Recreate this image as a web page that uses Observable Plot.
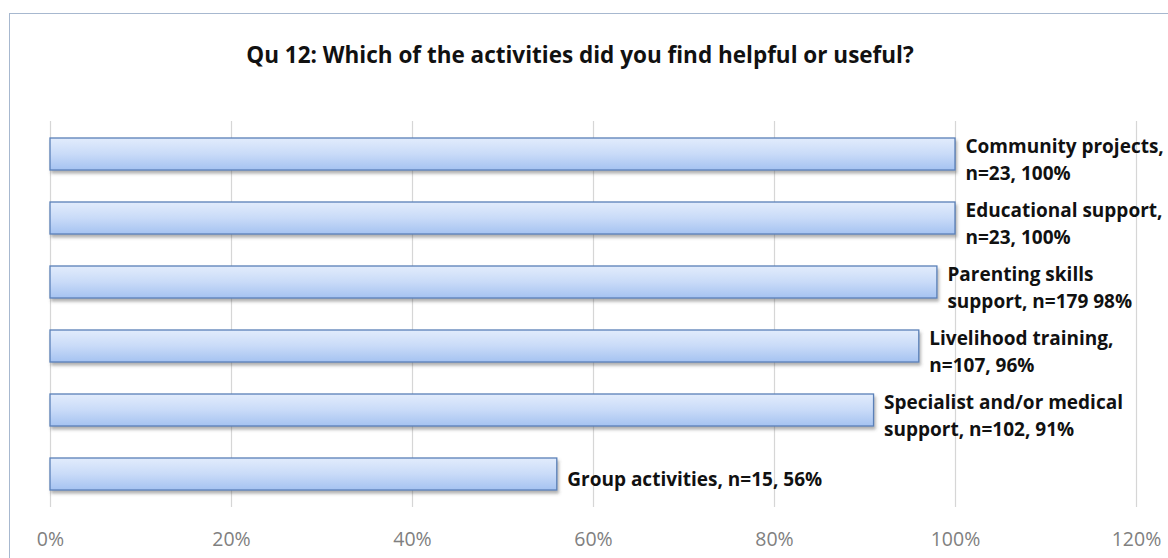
<!DOCTYPE html>
<html>
<head>
<meta charset="utf-8">
<script src="https://cdn.jsdelivr.net/npm/d3@7"></script>
<script src="https://cdn.jsdelivr.net/npm/@observablehq/plot@0.6"></script>
<style>
  html, body { margin: 0; padding: 0; background: #fff; }
  #wrap { position: relative; width: 1168px; height: 558px; overflow: hidden; font-family: "Open Sans", Lato, sans-serif; }
  #frame { position: absolute; left: 9px; top: 13px; width: 1300px; height: 700px; border: 1.5px solid #a7b8cf; box-sizing: border-box; }
  #title { position: absolute; left: 0; top: 39px; width: 1160px; text-align: center; font-weight: bold; font-size: 22.5px; color: #111; }
  #chart { position: absolute; left: 0; top: 0; }
</style>
</head>
<body>
<div id="wrap">
  <div id="frame"></div>
  <div id="title">Qu 12: Which of the activities did you find helpful or useful?</div>
  <div id="chart"></div>
</div>
<script>
const categories = [
  "Community projects",
  "Educational support",
  "Parenting skills support",
  "Livelihood training",
  "Specialist and/or medical support",
  "Group activities"
];
const shares = [1.00, 1.00, 0.98, 0.96, 0.91, 0.56];
const labels = [
  "Community projects,\nn=23, 100%",
  "Educational support,\nn=23, 100%",
  "Parenting skills\nsupport, n=179 98%",
  "Livelihood training,\nn=107, 96%",
  "Specialist and/or medical\nsupport, n=102, 91%",
  "Group activities, n=15, 56%"
];
const xTicks = [0, 0.2, 0.4, 0.6, 0.8, 1.0, 1.2];

const data = categories.map((c, i) => ({category: c, share: shares[i], label: labels[i]}));

const plot = Plot.plot({
  width: 1168,
  height: 558,
  marginLeft: 50,
  marginRight: 32,
  marginTop: 121,
  marginBottom: 51,
  style: {fontFamily: "'Open Sans', Lato, sans-serif", background: "transparent", overflow: "visible"},
  x: {domain: [0, 1.2], axis: null},
  y: {domain: categories, paddingInner: 0.5, paddingOuter: 0.25, axis: null},
  marks: [
    Plot.ruleX(xTicks, {stroke: "#d6d6d6", strokeWidth: 1.2}),
    Plot.axisX(xTicks, {tickFormat: d3.format(".0%"), tickSize: 0, tickPadding: 25, fontSize: 19.5, fill: "#808080", anchor: "bottom", label: null}),
    Plot.barX(data, {x: "share", y: "category", fill: "url(#barGrad)", stroke: "#5a80b8", strokeWidth: 1.3}),
    Plot.text(data, {x: "share", y: "category", text: "label", textAnchor: "start", lineAnchor: "middle", dx: 10, dy: 3, lineHeight: 1.44, fontSize: 19, fontWeight: "bold", fill: "#111"})
  ]
});

const svg = d3.select(plot);
const defs = svg.insert("defs", ":first-child");
const g = defs.append("linearGradient").attr("id", "barGrad").attr("x1", 0).attr("y1", 0).attr("x2", 0).attr("y2", 1);
g.append("stop").attr("offset", "0%").attr("stop-color", "#e2ecfc");
g.append("stop").attr("offset", "50%").attr("stop-color", "#c9dbf8");
g.append("stop").attr("offset", "100%").attr("stop-color", "#a5c3f1");
const f = defs.append("filter").attr("id", "shadow").attr("x", "-5%").attr("y", "-30%").attr("width", "115%").attr("height", "170%");
f.append("feDropShadow").attr("dx", 1.5).attr("dy", 3).attr("stdDeviation", 1.8).attr("flood-color", "#555").attr("flood-opacity", 0.45);
svg.selectAll("g[aria-label='bar'] rect").attr("filter", "url(#shadow)");

document.getElementById("chart").appendChild(plot);
</script>
</body>
</html>
